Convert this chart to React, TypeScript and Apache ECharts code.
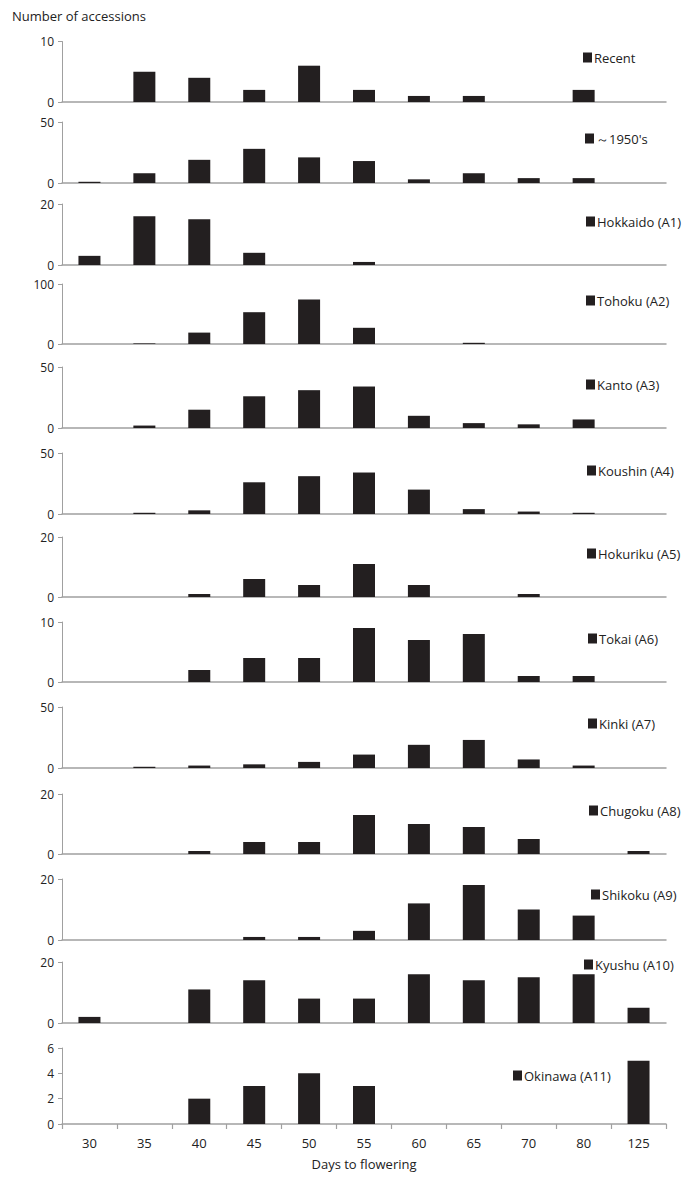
import React, { useEffect, useRef } from 'react';
import * as echarts from 'echarts';

// Categories (days to flowering)
const categories = ['30', '35', '40', '45', '50', '55', '60', '65', '70', '80', '125'];

// Number of accessions per group
const recent = [0, 5, 4, 2, 6, 2, 1, 1, 0, 2, 0];
const upTo1950s = [1, 8, 19, 28, 21, 18, 3, 8, 4, 4, 0];
const hokkaido = [3, 16, 15, 4, 0, 1, 0, 0, 0, 0, 0];
const tohoku = [0, 1, 19, 53, 74, 27, 0, 2, 0, 0, 0];
const kanto = [0, 2, 15, 26, 31, 34, 10, 4, 3, 7, 0];
const koushin = [0, 1, 3, 26, 31, 34, 20, 4, 2, 1, 0];
const hokuriku = [0, 0, 1, 6, 4, 11, 4, 0, 1, 0, 0];
const tokai = [0, 0, 2, 4, 4, 9, 7, 8, 1, 1, 0];
const kinki = [0, 1, 2, 3, 5, 11, 19, 23, 7, 2, 0];
const chugoku = [0, 0, 1, 4, 4, 13, 10, 9, 5, 0, 1];
const shikoku = [0, 0, 0, 1, 1, 3, 12, 18, 10, 8, 0];
const kyushu = [2, 0, 11, 14, 8, 8, 16, 14, 15, 16, 5];
const okinawa = [0, 0, 2, 3, 4, 3, 0, 0, 0, 0, 5];

const seriesNames = [
  'Recent', '～1950\'s', 'Hokkaido (A1)', 'Tohoku (A2)', 'Kanto (A3)', 'Koushin (A4)',
  'Hokuriku (A5)', 'Tokai (A6)', 'Kinki (A7)', 'Chugoku (A8)', 'Shikoku (A9)',
  'Kyushu (A10)', 'Okinawa (A11)',
];
const seriesData = [recent, upTo1950s, hokkaido, tohoku, kanto, koushin, hokuriku, tokai, kinki, chugoku, shikoku, kyushu, okinawa];
const yMax = [10, 50, 20, 100, 50, 50, 20, 10, 50, 20, 20, 20, 6];
const yInterval = [10, 50, 20, 100, 50, 50, 20, 10, 50, 20, 20, 20, 2];

// Layout (pixel positions)
const gridTop = [41.5, 122, 204, 284, 367, 453, 537, 622, 707, 794, 879, 962, 1048];
const gridBottomY = [102, 183, 265, 344, 428, 514, 597, 682, 768, 854, 940, 1023, 1124];
const legendPos: [number, number][] = [
  [583, 60], [585, 141], [586, 224], [586, 303], [586, 387], [587, 473], [587, 556],
  [588, 641], [588, 726], [589, 813], [591, 897], [584, 967], [513, 1078],
];

const FONT = '"Open Sans", sans-serif';
const AXIS_GREY = '#a0a0a0';
const BAR = '#231f20';

export default function App() {
  const ref = useRef<HTMLDivElement>(null);
  useEffect(() => {
    const chart = echarts.init(ref.current!, null, { renderer: 'svg' });
    const n = seriesNames.length;
    const grids = [];
    const xAxes = [];
    const yAxes = [];
    const series = [];
    const legends = [];
    for (let i = 0; i < n; i++) {
      const last = i === n - 1;
      grids.push({
        left: 62,
        width: 604,
        top: gridTop[i],
        height: gridBottomY[i] - gridTop[i],
      });
      xAxes.push({
        type: 'category',
        gridIndex: i,
        data: categories,
        boundaryGap: true,
        axisLine: { show: true, lineStyle: { color: AXIS_GREY, width: 1.5 } },
        axisTick: { show: last, length: 5, lineStyle: { color: AXIS_GREY, width: 1.2 } },
        axisLabel: { show: last, color: '#222', fontSize: 13, fontFamily: FONT, margin: 12 },
        name: last ? 'Days to flowering' : '',
        nameLocation: 'middle',
        nameGap: 33,
        nameTextStyle: { color: '#222', fontSize: 13, fontFamily: FONT },
        splitLine: { show: false },
      });
      yAxes.push({
        type: 'value',
        gridIndex: i,
        min: 0,
        max: yMax[i],
        interval: yInterval[i],
        axisLine: { show: true, lineStyle: { color: AXIS_GREY, width: 1 } },
        axisTick: { show: true, length: 4, lineStyle: { color: AXIS_GREY } },
        axisLabel: { color: '#222', fontSize: 12, fontFamily: FONT, margin: 8 },
        splitLine: { show: false },
      });
      series.push({
        type: 'bar',
        name: seriesNames[i],
        xAxisIndex: i,
        yAxisIndex: i,
        data: seriesData[i],
        barWidth: 22,
        itemStyle: { color: BAR },
      });
      legends.push({
        data: [seriesNames[i]],
        left: legendPos[i][0],
        top: legendPos[i][1] - 9,
        icon: 'rect',
        itemWidth: 9,
        itemHeight: 10,
        padding: 0,
        textStyle: { color: '#222', fontSize: 13, fontFamily: FONT, padding: [0, 0, 0, -3] },
        selectedMode: false,
      });
    }
    chart.setOption({
      animation: false,
      backgroundColor: '#ffffff',
      textStyle: { fontFamily: FONT },
      grid: grids,
      xAxis: xAxes,
      yAxis: yAxes,
      series,
      legend: legends,
      graphic: [
        {
          type: 'text',
          left: 12,
          top: 9,
          style: { text: 'Number of accessions', fill: '#222', fontSize: 13, fontFamily: FONT },
        },
      ],
    });
    return () => chart.dispose();
  }, []);
  return (
    <div
      ref={ref}
      style={{ position: 'absolute', left: 0, top: 0, width: 690, height: 1183, background: '#fff' }}
    />
  );
}
